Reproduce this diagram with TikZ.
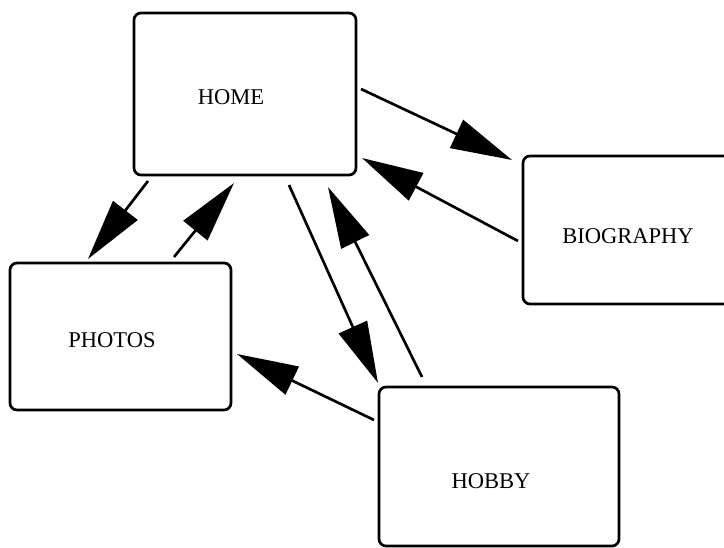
\documentclass[tikz,border=0pt]{standalone}
\usepackage{fontspec}
\setmainfont{Liberation Serif}
\usetikzlibrary{arrows.meta}
\begin{document}
\begin{tikzpicture}[x=0.75pt,y=-0.75pt,font=\fontsize{16.9pt}{20pt}\selectfont,
		page/.style={draw,line width=2pt,rounded corners=5.25pt,inner sep=0,outer sep=0},
		link/.style={line width=2pt,-{Triangle[length=46pt,width=23pt]}}]
		\clip (0,0) rectangle (724,548);
		\useasboundingbox (0,0) rectangle (724,548);
		\node [page,minimum width=166.5pt,minimum height=121.5pt,label={[name=homet,xshift=-10.5pt,yshift=-2.25pt]center:HOME}] at (245,94) (home) {};
		\node [page,minimum width=165pt,minimum height=111pt,label={[name=biot,xshift=-3.75pt,yshift=-4.5pt]center:BIOGRAPHY}] at (633,230) (bio) {};
		\node [page,minimum width=165.75pt,minimum height=110.25pt,label={[name=photost,xshift=-6.4pt,yshift=-2.6pt]center:PHOTOS}] at (120.5,336.5) (photos) {};
		\node [page,minimum width=180pt,minimum height=119.25pt,label={[name=hobbyt,xshift=-6pt,yshift=-10.9pt]center:HOBBY}] at (499,466.5) (hobby) {};
		\draw [link] ([shift={(5,-5)}]home.east) -- ([shift={(-11,4)}]bio.north west);
		\draw [link] ([shift={(-5,11)}]bio.west) -- ([shift={(6,-17)}]home.south east);
		\draw [link] ([shift={(14,6)}]home.south west) -- ([shift={(78,-4)}]photos.north west);
		\draw [link] ([shift={(53.5,-6)}]photos.north) -- ([shift={(100,8)}]home.south west);
		\draw [link] ([shift={(44,10)}]home.south) -- ([shift={(-1,-4)}]hobby.north west);
		\draw [link] ([shift={(43,-10)}]hobby.north west) -- ([shift={(83,12)}]home.south);
		\draw [link] ([shift={(-5,-46.5)}]hobby.west) -- ([shift={(6,17.5)}]photos.east);
	\end{tikzpicture}
\end{document}
